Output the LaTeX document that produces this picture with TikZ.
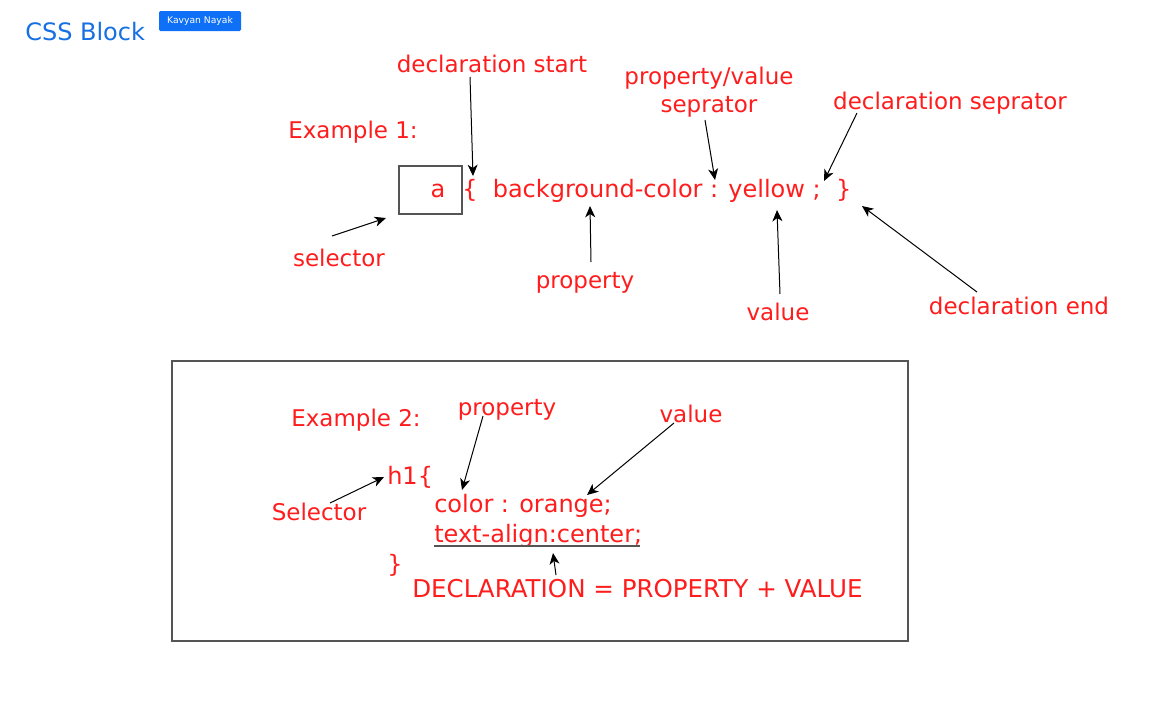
\documentclass[tikz,border=0pt]{standalone}
\usepackage{fontspec}
\setmainfont{DejaVu Sans}
\usetikzlibrary{arrows.meta}
\definecolor{cssred}{RGB}{255,28,28}
\definecolor{cssblue}{RGB}{22,112,226}
\definecolor{badgeblue}{RGB}{14,112,246}
\definecolor{framegray}{RGB}{85,85,85}

\begin{document}
\begin{tikzpicture}[x=0.75pt, y=-0.75pt,
        every node/.style={font=\fontsize{17.25}{21}\selectfont, text=cssred, inner sep=0pt},
        code/.style={anchor=base west, font=\fontsize{18}{22}\selectfont},
        pointer/.style={-{Stealth[length=8.5pt, width=7.5pt, inset=2.5pt]}, line width=0.75pt, black}]
            \useasboundingbox (0,0) rectangle (1168,708);

            % Title
            \node[anchor=base west, text=cssblue, font=\fontsize{18}{22}\selectfont] (title) at (25,40) {CSS Block};
            \node[fill=badgeblue, text=white, rounded corners=1pt, minimum width=61.5pt, minimum height=15pt,
                font=\fontsize{6.9}{8}\selectfont] (badge) at (200,21) {Kavyan Nayak};

            % Example 1
            \node[anchor=base] (decstart) at (492,72) {declaration start};
            \node[align=center] (pvsep) at (709,92) {property/value\\seprator};
            \node[anchor=base] (decsep) at (950,109) {declaration seprator};
            \node[anchor=base west] (ex1) at (288,138) {Example 1:};
            \node[draw=framegray, line width=1.1pt, minimum width=47.25pt, minimum height=36pt] (selbox) at (430.5,190) {};
            \node[code, anchor=base] (asel) at (438,197) {a};
            \node[code] (rule) at (462,197) {\{\ \ background-color : yellow ;\ \ \}};
            \node[anchor=base] (selector) at (339,266) {selector};
            \node[anchor=base] (prop) at (585,288) {property};
            \node[anchor=base] (val) at (778,320) {value};
            \node[anchor=base] (decend) at (1019,314) {declaration end};

            % Arrow ends, example 1
            \coordinate (startFrom) at (470,77);  \coordinate (startTo) at (473,176);
            \coordinate (pvFrom) at (705,120);    \coordinate (pvTo) at (715,180);
            \coordinate (sepFrom) at (857,113);   \coordinate (sepTo) at (824,181);
            \coordinate (selFrom) at (332,236);   \coordinate (selTo) at (386,218);
            \coordinate (propFrom) at (591,262);  \coordinate (propTo) at (590,206);
            \coordinate (valFrom) at (780,294);   \coordinate (valTo) at (777,210);
            \coordinate (endFrom) at (977,292);   \coordinate (endTo) at (862,206);

            \draw[pointer] (startFrom) -- (startTo);
            \draw[pointer] (pvFrom) -- (pvTo);
            \draw[pointer] (sepFrom) -- (sepTo);
            \draw[pointer] (selFrom) -- (selTo);
            \draw[pointer] (propFrom) -- (propTo);
            \draw[pointer] (valFrom) -- (valTo);
            \draw[pointer] (endFrom) -- (endTo);

            % Example 2 (framed)
            \draw[framegray, line width=0.8pt] (172,361) rectangle (908,641);

            \node[anchor=base west] (ex2) at (291,426) {Example 2:};
            \node[anchor=base] (prop2) at (507,415) {property};
            \node[anchor=base] (val2) at (691,422) {value};
            \node[code] (hone) at (387,484) {h1\{};
            \node[anchor=base] (selector2) at (319,520) {Selector};
            \node[code] (colordecl) at (434,512) {color : orange;};
            \node[code] (aligndecl) at (434,542) {text-align:center;};
            \node[code] (hclose) at (387,572) {\}};
            \node[anchor=base west, font=\fontsize{18.4}{22}\selectfont] (declsum) at (412,597) {DECLARATION = PROPERTY + VALUE};

            % Underline of one declaration
            \draw[framegray, line width=1pt] ([yshift=-3pt]aligndecl.base west) -- ([xshift=-2pt, yshift=-3pt]aligndecl.base east);

            % Arrow ends, example 2
            \coordinate (prop2From) at (483,416); \coordinate (prop2To) at (462,490);
            \coordinate (val2From) at (674,423);  \coordinate (val2To) at (587,495);
            \coordinate (sel2From) at (330,503);  \coordinate (sel2To) at (384,477);
            \coordinate (sumFrom) at (556,575);   \coordinate (sumTo) at (553,553);

            \draw[pointer] (prop2From) -- (prop2To);
            \draw[pointer] (val2From) -- (val2To);
            \draw[pointer] (sel2From) -- (sel2To);
            \draw[pointer] (sumFrom) -- (sumTo);

\end{tikzpicture}
\end{document}
